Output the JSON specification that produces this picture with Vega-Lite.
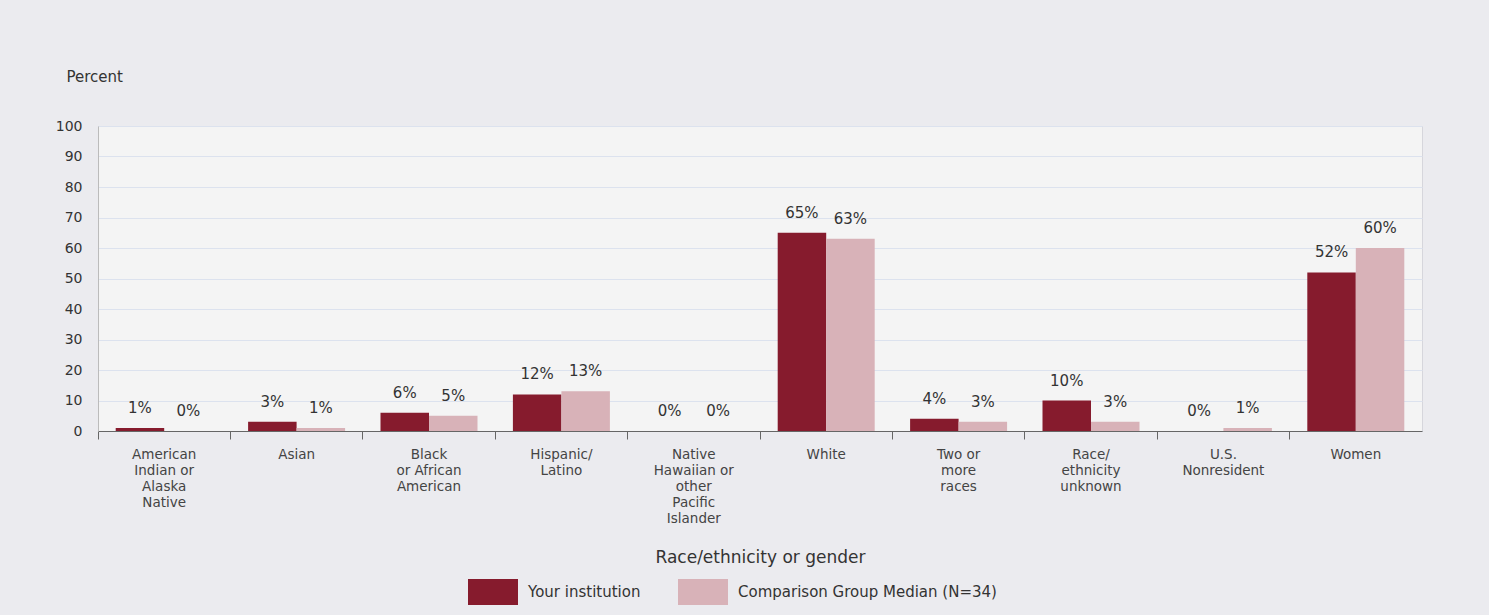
{
  "$schema": "https://vega.github.io/schema/vega-lite/v6.json",
  "autosize": "none",
  "width": 1324,
  "height": 305,
  "padding": {"left": 98, "top": 126, "right": 67, "bottom": 184},
  "background": "#EBEBEF",
  "config": {
    "view": {"fill": "#F4F4F4", "stroke": "#D6D6DC"},
    "font": "DejaVu Sans"
  },
  "data": {
    "values": [
      {"category": "American Indian or Alaska Native", "group": "Your institution", "value": 1},
      {"category": "American Indian or Alaska Native", "group": "Comparison Group Median (N=34)", "value": 0},
      {"category": "Asian", "group": "Your institution", "value": 3},
      {"category": "Asian", "group": "Comparison Group Median (N=34)", "value": 1},
      {"category": "Black or African American", "group": "Your institution", "value": 6},
      {"category": "Black or African American", "group": "Comparison Group Median (N=34)", "value": 5},
      {"category": "Hispanic/Latino", "group": "Your institution", "value": 12},
      {"category": "Hispanic/Latino", "group": "Comparison Group Median (N=34)", "value": 13},
      {"category": "Native Hawaiian or other Pacific Islander", "group": "Your institution", "value": 0},
      {"category": "Native Hawaiian or other Pacific Islander", "group": "Comparison Group Median (N=34)", "value": 0},
      {"category": "White", "group": "Your institution", "value": 65},
      {"category": "White", "group": "Comparison Group Median (N=34)", "value": 63},
      {"category": "Two or more races", "group": "Your institution", "value": 4},
      {"category": "Two or more races", "group": "Comparison Group Median (N=34)", "value": 3},
      {"category": "Race/ethnicity unknown", "group": "Your institution", "value": 10},
      {"category": "Race/ethnicity unknown", "group": "Comparison Group Median (N=34)", "value": 3},
      {"category": "U.S. Nonresident", "group": "Your institution", "value": 0},
      {"category": "U.S. Nonresident", "group": "Comparison Group Median (N=34)", "value": 1},
      {"category": "Women", "group": "Your institution", "value": 52},
      {"category": "Women", "group": "Comparison Group Median (N=34)", "value": 60}
    ]
  },
  "encoding": {
    "x": {
      "field": "category",
      "type": "nominal",
      "sort": null,
      "scale": {"paddingInner": 0, "paddingOuter": 0},
      "axis": {
        "title": "Race/ethnicity or gender",
        "titleFontSize": 17,
        "titleFontWeight": "normal",
        "titleColor": "#333333",
        "titleY": 126,
        "titleBaseline": "middle",
        "labelAngle": 0,
        "labelFontSize": 13.5,
        "labelColor": "#444444",
        "labelLineHeight": 16,
        "labelPadding": 8,
        "labelBaseline": "top",
        "bandPosition": 0,
        "domainColor": "#666666",
        "tickColor": "#666666",
        "tickSize": 8,
        "labelExpr": "({'American Indian or Alaska Native': ['American','Indian or','Alaska','Native'], 'Asian': 'Asian', 'Black or African American': ['Black','or African','American'], 'Hispanic/Latino': ['Hispanic/','Latino'], 'Native Hawaiian or other Pacific Islander': ['Native','Hawaiian or','other','Pacific','Islander'], 'White': 'White', 'Two or more races': ['Two or','more','races'], 'Race/ethnicity unknown': ['Race/','ethnicity','unknown'], 'U.S. Nonresident': ['U.S.','Nonresident'], 'Women': 'Women'})[datum.label]"
      }
    },
    "xOffset": {
      "field": "group",
      "type": "nominal",
      "sort": ["Your institution", "Comparison Group Median (N=34)"],
      "scale": {"paddingInner": 0, "paddingOuter": 0.365}
    },
    "y": {
      "field": "value",
      "type": "quantitative",
      "scale": {"domain": [0, 100]},
      "axis": {
        "title": "Percent",
        "titleAngle": 0,
        "titleAlign": "left",
        "titleBaseline": "middle",
        "titleX": -32,
        "titleY": -50,
        "titleFontSize": 15,
        "titleFontWeight": "normal",
        "titleColor": "#333333",
        "values": [0, 10, 20, 30, 40, 50, 60, 70, 80, 90, 100],
        "ticks": false,
        "labelPadding": 16,
        "labelFontSize": 14,
        "labelColor": "#333333",
        "domainColor": "#BBBBBB",
        "gridColor": "#DCE2EE",
        "gridWidth": 1
      }
    }
  },
  "layer": [
    {
      "mark": {"type": "bar"},
      "encoding": {
        "color": {
          "field": "group",
          "type": "nominal",
          "scale": {
            "domain": ["Your institution", "Comparison Group Median (N=34)"],
            "range": ["#861B2D", "#D8B2B8"]
          },
          "legend": {
            "title": null,
            "orient": "none",
            "direction": "horizontal",
            "legendX": 370,
            "legendY": 441,
            "symbolType": "M-1,-0.52L1,-0.52L1,0.52L-1,0.52Z",
            "symbolSize": 2500,
            "symbolStrokeWidth": 0,
            "symbolOpacity": 1,
            "labelFontSize": 15,
            "labelLimit": 500,
            "labelColor": "#333333",
            "labelOffset": 10,
            "columnPadding": 37
          }
        }
      }
    },
    {
      "transform": [{"calculate": "datum.value + '%'", "as": "label"}],
      "mark": {"type": "text", "baseline": "middle", "dy": -20, "fontSize": 15, "color": "#333333"},
      "encoding": {
        "text": {"field": "label", "type": "nominal"}
      }
    }
  ]
}
